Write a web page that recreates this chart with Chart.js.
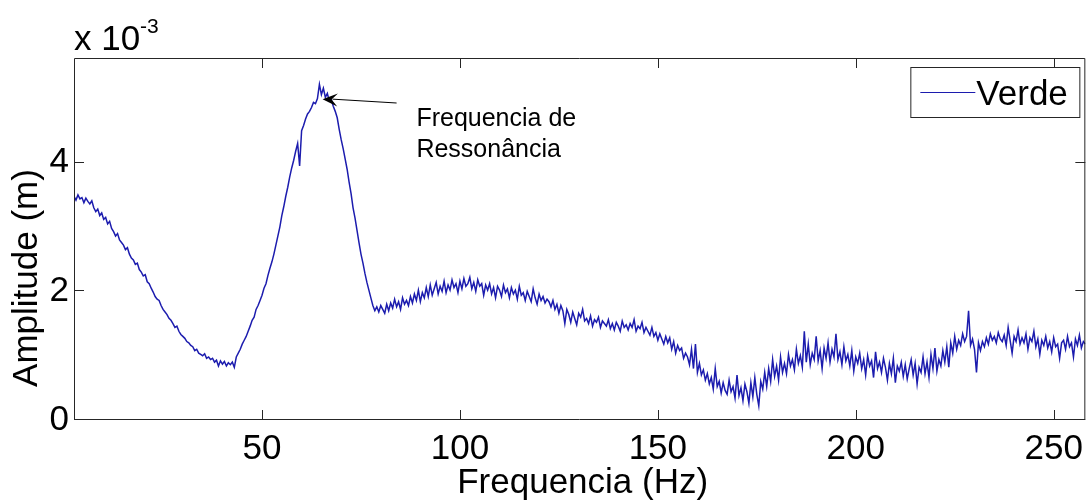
<!DOCTYPE html>
<html><head><meta charset="utf-8">
<script src="https://cdn.jsdelivr.net/npm/chart.js@4.4.0/dist/chart.umd.min.js"></script>
<style>html,body{margin:0;padding:0;background:#fff;}canvas{display:block;}</style>
</head><body>
<canvas id="c" width="1091" height="504"></canvas>
<script>
// ---- data ----
const freqStart = 2.5;          // Hz, first sample
const freqStep = 0.5;           // Hz, sample spacing
const amplitude = [ // x 10^-3 m
3.48,3.42,3.50,3.44,3.46,3.38,3.45,3.40,3.36,3.41,
3.30,3.24,3.28,3.18,3.22,3.12,3.15,3.05,3.09,2.98,
2.93,2.86,2.90,2.80,2.76,2.72,2.65,2.68,2.58,2.52,
2.49,2.42,2.44,2.34,2.30,2.24,2.26,2.15,2.12,2.05,
1.99,1.92,1.88,1.86,1.78,1.72,1.68,1.64,1.58,1.55,
1.50,1.44,1.46,1.38,1.33,1.30,1.27,1.22,1.20,1.16,
1.14,1.08,1.10,1.04,1.02,1.00,1.03,0.96,0.98,0.94,
0.96,0.90,0.93,0.84,0.92,0.87,0.91,0.84,0.89,0.86,
0.90,0.82,0.98,1.04,1.10,1.18,1.24,1.30,1.38,1.46,
1.55,1.60,1.72,1.78,1.86,1.94,2.05,2.12,2.25,2.36,
2.46,2.58,2.72,2.86,3.00,3.18,3.32,3.48,3.62,3.78,
3.92,4.04,4.18,4.30,3.95,4.50,4.58,4.68,4.76,4.80,
4.86,4.94,4.92,5.00,5.22,5.06,5.16,5.02,5.08,4.96,
4.98,4.88,4.80,4.70,4.52,4.36,4.22,4.06,3.90,3.70,
3.52,3.30,3.14,2.95,2.76,2.58,2.44,2.28,2.14,2.02,
1.90,1.78,1.70,1.76,1.68,1.78,1.72,1.66,1.80,1.70,
1.82,1.74,1.88,1.76,1.84,1.72,1.90,1.80,1.86,1.78,
1.92,1.82,1.96,1.86,2.02,1.84,1.98,1.90,2.06,1.92,
2.10,1.94,2.04,2.14,1.96,2.08,2.00,2.16,1.98,2.10,
2.02,2.18,2.06,2.12,1.98,2.16,2.04,2.20,2.08,2.12,
2.22,2.04,2.14,2.00,2.18,2.08,2.12,1.94,2.10,2.02,
2.12,1.96,2.06,1.90,2.08,2.02,1.92,2.10,1.98,2.04,
1.90,2.06,1.96,2.02,1.88,2.08,1.94,1.98,1.86,2.00,
1.92,1.84,2.04,1.90,1.80,1.96,1.86,1.92,1.82,1.88,
1.84,1.76,1.86,1.72,1.80,1.66,1.78,1.70,1.50,1.72,
1.64,1.52,1.68,1.58,1.48,1.66,1.60,1.72,1.54,1.58,
1.50,1.62,1.46,1.56,1.52,1.60,1.44,1.54,1.50,1.46,
1.56,1.42,1.50,1.40,1.52,1.46,1.38,1.54,1.44,1.48,
1.40,1.50,1.44,1.56,1.38,1.46,1.42,1.52,1.36,1.44,
1.38,1.32,1.44,1.30,1.36,1.24,1.34,1.26,1.18,1.30,
1.20,1.28,1.10,1.22,1.04,1.16,1.08,1.12,0.96,1.04,
0.98,0.86,1.10,0.80,1.18,0.74,0.88,0.70,0.78,0.62,
0.72,0.56,0.66,0.48,0.80,0.52,0.60,0.42,0.58,0.46,
0.40,0.62,0.44,0.52,0.34,0.70,0.38,0.50,0.30,0.56,
0.44,0.26,0.58,0.36,0.66,0.40,0.22,0.60,0.48,0.74,
0.52,0.80,0.60,0.94,0.68,0.84,0.62,0.98,0.74,0.88,
0.72,1.02,0.84,0.94,0.78,1.10,0.88,1.00,0.82,1.38,
0.90,1.18,0.86,1.04,0.94,1.30,0.92,1.08,0.80,1.12,
0.96,1.20,0.90,1.10,0.98,1.34,0.94,1.06,0.86,1.14,
0.92,1.02,0.84,1.08,0.76,0.98,0.88,1.04,0.80,0.94,
0.70,1.00,0.84,0.92,0.66,1.06,0.80,0.90,0.74,0.96,
0.82,0.62,0.88,0.72,0.96,0.58,0.84,0.76,0.90,0.68,
0.86,0.64,0.80,0.94,0.70,0.88,0.56,0.82,0.74,0.98,
0.72,0.90,0.66,1.02,0.80,1.12,0.76,0.94,0.84,1.08,
0.90,1.14,0.82,1.20,1.04,1.30,1.10,1.24,1.16,1.34,
1.22,1.30,1.70,1.16,1.26,1.10,0.74,1.20,1.08,1.22,
1.14,1.28,1.18,1.34,1.24,1.30,1.20,1.36,1.26,1.22,
1.32,1.16,1.44,1.24,1.04,1.30,1.22,1.40,1.18,1.28,
1.20,1.34,1.10,1.28,1.22,1.38,1.14,1.26,1.02,1.24,
1.16,1.30,1.12,1.22,1.06,1.28,1.14,1.18,0.96,1.20,
1.24,1.10,1.30,1.14,1.20,0.98,1.26,1.16,1.32,1.12,
1.22,1.18
];
const xTickValues = [50, 100, 150, 200, 250];
const yTickValues = [0, 2, 4];
const xRange = [2.5, 258];
const yRange = [0, 5.63];
const seriesLabel = 'Verde';
const xTitle = 'Frequencia (Hz)';
const yTitle = 'Amplitude (m)';
const exponentBase = 'x 10';
const exponentPower = '-3';
const annotationText = ['Frequencia de', 'Ressonância'];
const arrowTip = [65.3, 4.99];
const arrowTail = [84.0, 4.93];
const annotationAnchor = [89.0, 4.57];

// ---- build ----
const FONT = "'Liberation Sans', Arial, Helvetica, sans-serif";
const LINE_COLOR = '#1c1cae';
const points = amplitude.map((v, i) => ({ x: freqStart + i * freqStep, y: v }));

const matlabPlugin = {
  id: 'matlabLook',
  afterDatasetsDraw(chart) {
    const ctx = chart.ctx;
    const { left, right, top, bottom } = chart.chartArea;
    const xs = chart.scales.x, ys = chart.scales.y;
    ctx.save();
    // box
    ctx.strokeStyle = '#262626';
    ctx.lineWidth = 1;
    ctx.beginPath();
    ctx.rect(left + 0.5, top + 0.5, right - left - 1, bottom - top - 1);
    ctx.stroke();
    // inward ticks
    ctx.beginPath();
    xTickValues.forEach(v => {
      const px = Math.round(xs.getPixelForValue(v)) + 0.5;
      ctx.moveTo(px, bottom); ctx.lineTo(px, bottom - 10);
      ctx.moveTo(px, top); ctx.lineTo(px, top + 10);
    });
    yTickValues.forEach(v => {
      const py = Math.round(ys.getPixelForValue(v)) - 0.5;
      ctx.moveTo(left, py); ctx.lineTo(left + 10, py);
      ctx.moveTo(right, py); ctx.lineTo(right - 10, py);
    });
    ctx.stroke();

    // exponent label
    ctx.fillStyle = '#000';
    ctx.textAlign = 'left';
    ctx.textBaseline = 'alphabetic';
    ctx.font = '35px ' + FONT;
    ctx.fillText(exponentBase, left, 50);
    ctx.font = '21px ' + FONT;
    ctx.fillText(exponentPower, left + 66, 33);

    // axis titles
    ctx.font = '35px ' + FONT;
    ctx.textAlign = 'center';
    ctx.fillText(xTitle, (left + right) / 2 + 3, 493);
    ctx.save();
    ctx.translate(37, 278);
    ctx.rotate(-Math.PI / 2);
    ctx.fillText(yTitle, 0, 0);
    ctx.restore();

    // annotation arrow
    const tx = xs.getPixelForValue(arrowTip[0]), ty = ys.getPixelForValue(arrowTip[1]);
    const sx = xs.getPixelForValue(arrowTail[0]), sy = ys.getPixelForValue(arrowTail[1]);
    ctx.strokeStyle = '#000';
    ctx.beginPath();
    ctx.moveTo(sx, sy); ctx.lineTo(tx + 10, ty);
    ctx.stroke();
    const ang = Math.atan2(ty - sy, tx - sx);
    const L = 15, W = 6.5;
    const bx = tx - L * Math.cos(ang), by = ty - L * Math.sin(ang);
    const nx = -Math.sin(ang), ny = Math.cos(ang);
    const mx = tx - 0.6 * L * Math.cos(ang), my = ty - 0.6 * L * Math.sin(ang);
    ctx.fillStyle = '#000';
    ctx.beginPath();
    ctx.moveTo(tx, ty);
    ctx.lineTo(bx + nx * W, by + ny * W);
    ctx.lineTo(mx, my);
    ctx.lineTo(bx - nx * W, by - ny * W);
    ctx.closePath();
    ctx.fill();
    // annotation text
    ctx.font = '25px ' + FONT;
    ctx.textAlign = 'left';
    const ax = xs.getPixelForValue(annotationAnchor[0]), ay = ys.getPixelForValue(annotationAnchor[1]);
    annotationText.forEach((t, i) => ctx.fillText(t, ax, ay + i * 31));

    // legend
    const ds = chart.data.datasets[0];
    const lw = 169, lh = 50;
    const lx = right - 6 - lw, ly = top + 9;
    ctx.fillStyle = '#fff';
    ctx.fillRect(lx, ly, lw, lh);
    ctx.strokeStyle = '#262626';
    ctx.lineWidth = 1;
    ctx.strokeRect(lx + 0.5, ly + 0.5, lw, lh);
    ctx.strokeStyle = ds.borderColor;
    ctx.beginPath();
    ctx.moveTo(lx + 10, ly + 25.5); ctx.lineTo(lx + 65, ly + 25.5);
    ctx.stroke();
    ctx.fillStyle = '#000';
    ctx.font = '35px ' + FONT;
    ctx.fillText(ds.label, lx + 66, ly + 38);
    ctx.restore();
  }
};

new Chart(document.getElementById('c'), {
  type: 'line',
  data: {
    datasets: [{
      label: seriesLabel,
      data: points,
      borderColor: LINE_COLOR,
      borderWidth: 1.5,
      pointRadius: 0,
      tension: 0,
      fill: false
    }]
  },
  options: {
    responsive: false,
    animation: false,
    events: [],
    layout: { padding: { top: 58, right: 4, left: 0, bottom: 0 } },
    plugins: { legend: { display: false }, tooltip: { enabled: false } },
    scales: {
      x: {
        type: 'linear',
        min: xRange[0], max: xRange[1],
        afterBuildTicks: s => { s.ticks = xTickValues.map(v => ({ value: v })); },
        afterFit: s => { s.height = 84; },
        grid: { display: false, drawTicks: false },
        border: { display: false },
        ticks: { color: '#000', font: { size: 35, family: FONT }, padding: 8, maxRotation: 0, autoSkip: false }
      },
      y: {
        type: 'linear',
        min: yRange[0], max: yRange[1],
        afterBuildTicks: s => { s.ticks = yTickValues.map(v => ({ value: v })); },
        afterFit: s => { s.width = 74; },
        grid: { display: false, drawTicks: false },
        border: { display: false },
        ticks: { color: '#000', font: { size: 35, family: FONT }, padding: 5, autoSkip: false }
      }
    }
  },
  plugins: [matlabPlugin]
});
</script>
</body></html>
